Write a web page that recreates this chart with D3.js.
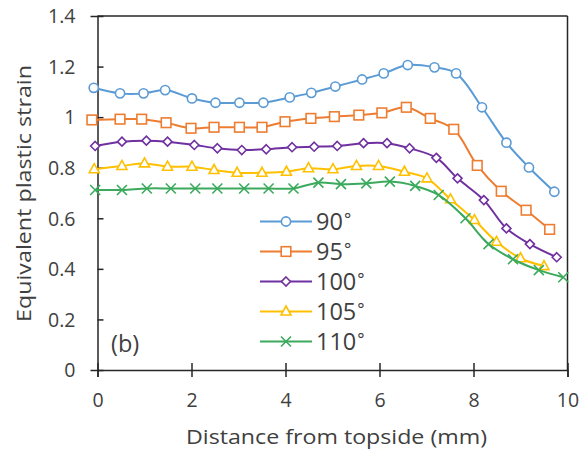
<!DOCTYPE html>
<html><head><meta charset="utf-8">
<script src="https://cdn.jsdelivr.net/npm/d3@7"></script>
<style>body{margin:0;background:#fff}svg{display:block}text{font-family:"Open Sans",sans-serif;fill:#404040}</style>
</head><body><svg id="c" width="580" height="457"></svg>
<script>
const seriesNames = ["90°","95°","100°","105°","110°"];
const colors = ["#5B9BD5","#ED7D31","#7030A0","#FFC000","#3BAA5C"];
const markers = ["circle","square","diamond","triangle","cross"];
const x90 = [-0.08,0.48,0.98,1.44,2.01,2.51,3.02,3.53,4.09,4.55,5.06,5.63,6.09,6.60,7.17,7.63,8.18,8.70,9.18,9.72];
const y90 = [1.116,1.094,1.094,1.107,1.074,1.057,1.057,1.057,1.078,1.096,1.121,1.149,1.173,1.206,1.197,1.173,1.039,0.899,0.801,0.705];
const x95 = [-0.12,0.48,0.94,1.46,1.99,2.48,3.02,3.50,3.99,4.54,5.04,5.56,6.05,6.57,7.08,7.58,8.08,8.59,9.12,9.62];
const y95 = [0.989,0.992,0.992,0.978,0.956,0.960,0.960,0.960,0.982,0.995,1.002,1.008,1.017,1.039,0.995,0.952,0.809,0.707,0.632,0.556];
const x100 = [-0.05,0.52,1.04,1.49,2.06,2.55,3.07,3.59,4.14,4.61,5.10,5.66,6.16,6.64,7.21,7.66,8.22,8.70,9.20,9.77];
const y100 = [0.886,0.903,0.907,0.903,0.890,0.877,0.870,0.873,0.881,0.883,0.886,0.897,0.897,0.877,0.839,0.758,0.672,0.560,0.498,0.446];
const x105 = [-0.07,0.52,1.00,1.49,2.01,2.48,2.97,3.50,4.02,4.49,5.01,5.51,5.98,6.53,7.01,7.51,8.02,8.49,9.00,9.50];
const y105 = [0.794,0.807,0.817,0.804,0.804,0.791,0.780,0.780,0.784,0.798,0.794,0.807,0.807,0.784,0.758,0.675,0.593,0.507,0.442,0.411];
const x110 = [-0.05,0.52,1.05,1.56,2.08,2.55,3.12,3.64,4.17,4.70,5.18,5.72,6.22,6.76,7.26,7.83,8.32,8.84,9.39,9.91];
const y110 = [0.712,0.712,0.718,0.718,0.718,0.718,0.718,0.718,0.718,0.741,0.735,0.738,0.745,0.728,0.692,0.600,0.498,0.438,0.395,0.367];
const xTicks = [0,2,4,6,8,10];
const yTicks = [0,0.2,0.4,0.6,0.8,1,1.2,1.4];
const xTitle = "Distance from topside (mm)";
const yTitle = "Equivalent plastic strain";
const panelLabel = "(b)";

const xs = [x90,x95,x100,x105,x110], ys = [y90,y95,y100,y105,y110];
const svg = d3.select("#c");
const L=97.5, R=567.5, T=16, B=370;
const x = d3.scaleLinear().domain([0,10]).range([L,R]);
const y = d3.scaleLinear().domain([0,1.4]).range([B,T]);
const axisCol = "#262626";

// frame
svg.append("line").attr("x1",L).attr("x2",R).attr("y1",T).attr("y2",T).attr("stroke",axisCol).attr("stroke-width",1.5);
svg.append("line").attr("x1",R).attr("x2",R).attr("y1",T).attr("y2",B).attr("stroke",axisCol).attr("stroke-width",1.5);

// axes
const gx = svg.append("g").attr("transform",`translate(0,${B})`)
  .call(d3.axisBottom(x).tickValues(xTicks).tickSize(7).tickFormat(d3.format("d")));
gx.selectAll(".tick line").attr("y1",-7);
const gy = svg.append("g").attr("transform",`translate(${L},0)`)
  .call(d3.axisLeft(y).tickValues(yTicks).tickSize(7).tickFormat(d=>String(d)));
gy.selectAll(".tick line").attr("x2",6);
[gx,gy].forEach(g=>{
  g.select(".domain").attr("stroke",axisCol).attr("stroke-width",1.5);
  g.selectAll(".tick line").attr("stroke",axisCol).attr("stroke-width",1.5);
  g.selectAll(".tick text").attr("font-family","Open Sans").attr("font-size",19.5).attr("fill","#404040");
});
gx.selectAll(".tick text").attr("dy",null).attr("y",37);
gy.selectAll(".tick text").attr("x",-22).attr("dy","0.35em");

svg.append("text").attr("x",336.5).attr("y",444).attr("text-anchor","middle").attr("font-size",20.5)
  .attr("textLength",301).attr("lengthAdjust","spacingAndGlyphs").text(xTitle);
svg.append("text").attr("transform","translate(31,193.5) rotate(-90)").attr("text-anchor","middle").attr("font-size",20.5)
  .attr("textLength",257).attr("lengthAdjust","spacingAndGlyphs").text(yTitle);
svg.append("text").attr("x",111).attr("y",352).attr("font-size",23.5).text(panelLabel);

function drawMarker(g, type, cx, cy, col){
  const sw=1.6;
  if(type==="circle") g.append("circle").attr("cx",cx).attr("cy",cy).attr("r",4.6).attr("fill","#fff").attr("stroke",col).attr("stroke-width",sw);
  else if(type==="square") g.append("rect").attr("x",cx-4.8).attr("y",cy-4.8).attr("width",9.6).attr("height",9.6).attr("fill","#fff").attr("stroke",col).attr("stroke-width",sw);
  else if(type==="diamond") g.append("path").attr("d",`M${cx},${cy-4.5}L${cx+4.5},${cy}L${cx},${cy+4.5}L${cx-4.5},${cy}Z`).attr("fill","#fff").attr("stroke",col).attr("stroke-width",sw);
  else if(type==="triangle") g.append("path").attr("d",`M${cx},${cy-5.5}L${cx+5},${cy+3.5}L${cx-5},${cy+3.5}Z`).attr("fill","#fff").attr("stroke",col).attr("stroke-width",sw);
  else if(type==="cross") g.append("path").attr("d",`M${cx-5},${cy-5}L${cx+5},${cy+5}M${cx-5},${cy+5}L${cx+5},${cy-5}`).attr("stroke",col).attr("stroke-width",sw);
}

const line = d3.line().x(d=>x(d[0])).y(d=>y(d[1])).curve(d3.curveCatmullRom.alpha(0.5));
xs.forEach((xv,i)=>{
  const pts = xv.map((v,j)=>[v,ys[i][j]]);
  const g = svg.append("g");
  g.append("path").datum(pts).attr("d",line).attr("fill","none").attr("stroke",colors[i]).attr("stroke-width",2);
  pts.forEach(p=>drawMarker(g,markers[i],x(p[0]),y(p[1]),colors[i]));
});

// legend
const legY = [221.5,251.5,281.5,311.5,341.5];
seriesNames.forEach((n,i)=>{
  const g = svg.append("g");
  g.append("line").attr("x1",260).attr("x2",312).attr("y1",legY[i]).attr("y2",legY[i]).attr("stroke",colors[i]).attr("stroke-width",2);
  drawMarker(g,markers[i],286,legY[i],colors[i]);
  const t = g.append("text").attr("x",316).attr("y",legY[i]+8.5).attr("font-size",23.5);
  t.append("tspan").text(n.replace("°",""));
  t.append("tspan").attr("font-size",17).attr("dx",1).attr("dy",-5).text("°");
});
</script></body></html>
